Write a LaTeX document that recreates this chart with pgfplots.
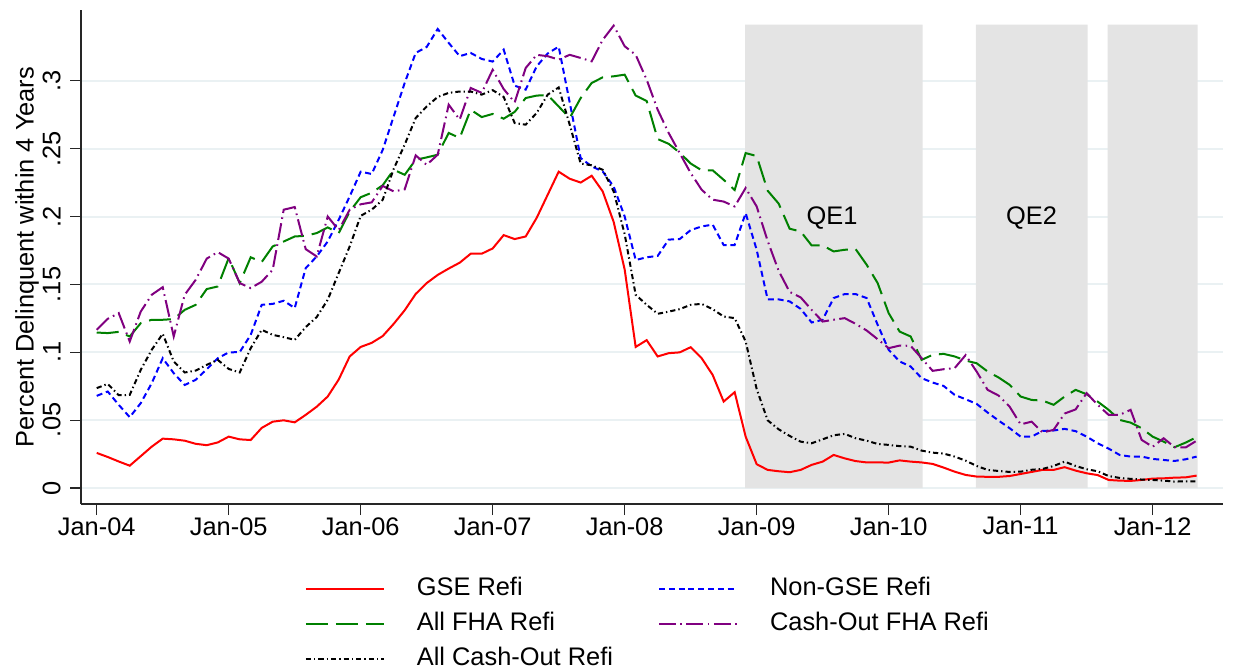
\documentclass[border=0pt]{standalone}
\usepackage{fontspec}
\setmainfont{Liberation Sans}
\usepackage{pgfplots}
\pgfplotsset{compat=1.18}
\usepackage{pgfplotstable}
\definecolor{shade}{RGB}{228,228,228}
\definecolor{gridc}{RGB}{234,241,243}
\definecolor{fhagreen}{RGB}{0,128,0}
\definecolor{copurple}{RGB}{128,0,128}
\newcommand\lf{\fontsize{12.7}{15}\selectfont}

\pgfplotstableread{
m gse ngse fha cofha allco
0 .026 .068 .1146 .1166 .0737
1 .023 .0712 .1142 .1247 .0768
2 .0197 .0614 .1151 .1289 .0685
3 .0166 .0523 .1117 .108 .0687
4 .0236 .0626 .1215 .130 .0871
5 .0306 .0773 .124 .1424 .1019
6 .0365 .0957 .124 .148 .1137
7 .036 .0847 .1245 .1117 .0933
8 .035 .076 .1313 .1424 .0852
9 .0327 .0798 .135 .1534 .0866
10 .0317 .0876 .1466 .169 .0908
11 .0337 .0957 .1485 .1738 .0945
12 .038 .100 .1694 .169 .0878
13 .036 .1002 .151 .151 .0852
14 .0355 .1129 .170 .1473 .1031
15 .0444 .135 .1665 .152 .1166
16 .049 .1357 .178 .1608 .1129
17 .050 .138 .1816 .205 .1112
18 .0485 .1326 .1853 .207 .1092
19 .054 .162 .1858 .176 .1186
20 .060 .1706 .1878 .1706 .126
21 .0675 .1816 .192 .200 .1387
22 .080 .1976 .1878 .190 .1584
23 .097 .2148 .2037 .205 .178
24 .104 .233 .2142 .209 .2005
25 .107 .2313 .2175 .2104 .205
26 .112 .249 .223 .2225 .2123
27 .121 .2737 .2344 .2185 .235
28 .131 .2983 .2307 .220 .2529
29 .143 .3204 .2418 .245 .2725
30 .151 .3248 .2435 .238 .281
31 .157 .338 .2455 .2455 .288
32 .1617 .3278 .2615 .2823 .291
33 .166 .318 .2578 .2713 .292
34 .1726 .3204 .2786 .2946 .292
35 .1726 .316 .2732 .291 .2897
36 .1765 .314 .2755 .308 .293
37 .1863 .3228 .272 .2938 .288
38 .1834 .2963 .277 .284 .2688
39 .1853 .2934 .2872 .3093 .2676
40 .199 .3105 .289 .319 .2762
41 .216 .320 .2894 .318 .2897
42 .233 .325 .281 .3155 .295
43 .2278 .284 .2725 .319 .2676
44 .225 .243 .2872 .3167 .239
45 .230 .2369 .2983 .3142 .2377
46 .2185 .2332 .3024 .330 .2344
47 .196 .222 .3032 .3405 .2185
48 .161 .200 .3044 .3253 .187
49 .104 .168 .289 .319 .1424
50 .109 .170 .285 .3007 .135
51 .097 .171 .257 .2786 .1284
52 .0994 .183 .2535 .2615 .130
53 .100 .1834 .247 .2467 .1318
54 .1038 .190 .239 .232 .135
55 .0957 .1927 .234 .2197 .1357
56 .0834 .194 .234 .2124 .1318
57 .0638 .179 .227 .211 .1264
58 .0707 .179 .2195 .2074 .1252
59 .038 .2025 .2467 .221 .108
60 .0177 .1755 .2445 .2074 .073
61 .0135 .139 .219 .182 .050
62 .0125 .139 .2095 .160 .0434
63 .0118 .1375 .191 .1445 .0385
64 .0135 .132 .189 .1405 .0343
65 .0172 .122 .1787 .1313 .0331
66 .0196 .124 .1787 .1227 .036
67 .0245 .140 .1743 .124 .039
68 .022 .1429 .1755 .1252 .040
69 .020 .1429 .176 .121 .0368
70 .019 .140 .1645 .1161 .035
71 .019 .1203 .151 .1097 .0326
72 .0189 .1019 .1289 .1031 .0319
73 .0205 .0933 .1153 .105 .031
74 .0196 .0896 .1117 .1048 .0306
75 .019 .081 .0945 .0957 .0277
76 .0179 .0778 .0982 .0864 .0262
77 .0152 .0753 .0989 .0876 .0255
78 .0122 .0687 .097 .0884 .0233
79 .0098 .0655 .094 .098 .0203
80 .0086 .0621 .092 .0859 .0164
81 .0084 .0557 .0859 .0724 .0135
82 .0084 .0498 .0815 .0682 .0127
83 .009 .0442 .0761 .060 .012
84 .0105 .038 .0675 .047 .0122
85 .012 .038 .065 .049 .0136
86 .0135 .0422 .0645 .041 .0142
87 .0135 .0425 .0614 .043 .0164
88 .0155 .0437 .0675 .055 .0196
89 .013 .042 .0724 .058 .0164
90 .011 .038 .0692 .070 .014
91 .0097 .0331 .0638 .0614 .0125
92 .0061 .0292 .0577 .054 .009
93 .0056 .0245 .0503 .054 .0076
94 .0054 .0233 .0483 .0577 .0069
95 .0061 .0233 .0442 .0356 .0064
96 .0071 .0216 .038 .0305 .0061
97 .0073 .0208 .0343 .0368 .0056
98 .0078 .0201 .0302 .0302 .0049
99 .008 .0213 .0336 .030 .0051
100 .0093 .0233 .0376 .035 .0051
}\data

\begin{document}
\begin{tikzpicture}
\path[use as bounding box] (-40.5pt,-82.5pt) rectangle (577pt,252pt);
\begin{axis}[
  at={(0pt,0pt)}, anchor=south west,
  scale only axis, width=571pt, height=247pt,
  xmin=-1.43, xmax=102.4, ymin=-0.0116, ymax=0.352,
  axis x line=bottom, axis y line=left,
  axis line style={-, line width=0.75pt, black!85},
  tick align=outside, major tick length=5.5pt,
  tick style={line width=0.75pt, black!85},
  xtick={0,12,24,36,48,60,72,84,96},
  xticklabels={Jan-04,Jan-05,Jan-06,Jan-07,Jan-08,Jan-09,Jan-10,Jan-11,Jan-12},
  ytick={0,0.05,0.1,0.15,0.2,0.25,0.3},
  yticklabels={0,.05,.1,.15,.2,.25,.3},
  ymajorgrids, grid style={gridc, line width=1pt},
  ticklabel style={font=\lf},
  yticklabel style={rotate=90, anchor=south, inner sep=1pt, yshift=3.5pt},
  xticklabel style={inner sep=1pt},
  ylabel={Percent Delinquent within 4 Years},
  ylabel style={font=\lf, at={(axis description cs:-0.0473,0.5)}, anchor=center},
  legend columns=2,
  legend cell align=left,
  legend image code/.code={\draw[#1] (0pt,0pt) -- (39pt,0pt);},
  legend style={draw=none, fill=none, font=\lf, inner sep=0pt, outer sep=0pt,
    at={(0.196,-0.148)}, anchor=north west,
    nodes={inner sep=0pt, text height=9pt, text depth=2.5pt},
    row sep=6pt,
    /tikz/every odd column/.append style={column sep=16pt},
    /tikz/every even column/.append style={column sep=22.5pt}},
]
\addplot[fill=shade, draw=none, forget plot] coordinates {(58.94,0) (58.94,0.3413) (75.09,0.3413) (75.09,0)} \closedcycle;
\addplot[fill=shade, draw=none, forget plot] coordinates {(79.94,0) (79.94,0.3413) (90.09,0.3413) (90.09,0)} \closedcycle;
\addplot[fill=shade, draw=none, forget plot] coordinates {(91.91,0) (91.91,0.3413) (100.09,0.3413) (100.09,0)} \closedcycle;

\addplot[red, line width=1pt] table[x=m, y=gse] {\data};
\addlegendentry{GSE Refi}
\addplot[blue, line width=1pt, dash pattern=on 3pt off 1.9pt] table[x=m, y=ngse] {\data};
\addlegendentry{Non-GSE Refi}
\addplot[fhagreen, line width=1pt, dash pattern=on 11pt off 4pt] table[x=m, y=fha] {\data};
\addlegendentry{All FHA Refi}
\addplot[copurple, line width=1pt, dash pattern=on 8.5pt off 2.2pt on 0.8pt off 2.2pt] table[x=m, y=cofha] {\data};
\addlegendentry{Cash-Out FHA Refi}
\addplot[black, line width=1pt, dash pattern=on 2.6pt off 1.5pt on 0.7pt off 1.5pt] table[x=m, y=allco] {\data};
\addlegendentry{All Cash-Out Refi}

\node[font=\lf] at (axis cs:66.85,0.199) {QE1};
\node[font=\lf] at (axis cs:85.0,0.199) {QE2};
\end{axis}
\end{tikzpicture}
\end{document}
